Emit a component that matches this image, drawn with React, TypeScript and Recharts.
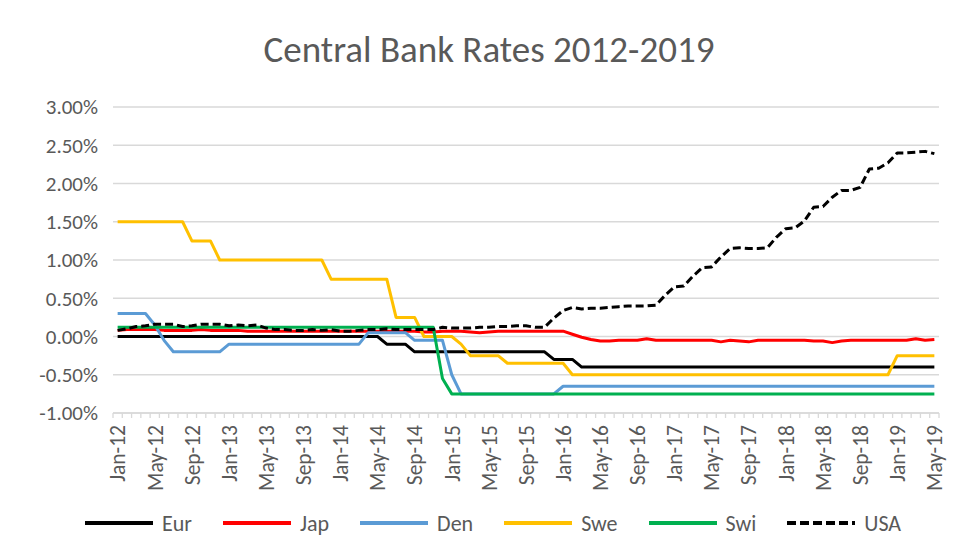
import { CartesianGrid, Line, LineChart, XAxis, YAxis } from 'recharts';

const FONT = 'Carlito, Calibri, Lato, sans-serif';
const TEXT = '#595959';
const GRID = '#D9D9D9';

// categories: monthly, Jan-12 .. May-19
const monthNames = ['Jan', 'Feb', 'Mar', 'Apr', 'May', 'Jun', 'Jul', 'Aug', 'Sep', 'Oct', 'Nov', 'Dec'];
const years = [12, 13, 14, 15, 16, 17, 18, 19];
const categories: string[] = [];
years.forEach(y => monthNames.forEach((m, i) => {
    if (y < 19 || i < 5) categories.push(`${m}-${y}`);
}));

// rates in %
const eur = [
    0, 0, 0, 0, 0, 0, 0, 0, 0, 0, 0, 0,
    0, 0, 0, 0, 0, 0, 0, 0, 0, 0, 0, 0,
    0, 0, 0, 0, 0, -0.1, -0.1, -0.1, -0.2, -0.2, -0.2, -0.2,
    -0.2, -0.2, -0.2, -0.2, -0.2, -0.2, -0.2, -0.2, -0.2, -0.2, -0.2, -0.3,
    -0.3, -0.3, -0.4, -0.4, -0.4, -0.4, -0.4, -0.4, -0.4, -0.4, -0.4, -0.4,
    -0.4, -0.4, -0.4, -0.4, -0.4, -0.4, -0.4, -0.4, -0.4, -0.4, -0.4, -0.4,
    -0.4, -0.4, -0.4, -0.4, -0.4, -0.4, -0.4, -0.4, -0.4, -0.4, -0.4, -0.4,
    -0.4, -0.4, -0.4, -0.4, -0.4,
];
const jap = [
    0.08, 0.09, 0.09, 0.09, 0.09, 0.08, 0.08, 0.08, 0.08, 0.09, 0.08, 0.08,
    0.08, 0.08, 0.07, 0.07, 0.07, 0.07, 0.07, 0.07, 0.07, 0.07, 0.07, 0.07,
    0.07, 0.07, 0.07, 0.07, 0.07, 0.07, 0.07, 0.07, 0.07, 0.06, 0.06, 0.07,
    0.07, 0.07, 0.06, 0.05, 0.06, 0.07, 0.07, 0.07, 0.07, 0.07, 0.07, 0.07,
    0.07, 0.03, -0.01, -0.04, -0.06, -0.06, -0.05, -0.05, -0.05, -0.03, -0.05, -0.05,
    -0.05, -0.05, -0.05, -0.05, -0.05, -0.07, -0.05, -0.06, -0.07, -0.05, -0.05, -0.05,
    -0.05, -0.05, -0.05, -0.06, -0.06, -0.08, -0.06, -0.05, -0.05, -0.05, -0.05, -0.05,
    -0.05, -0.05, -0.03, -0.05, -0.04,
];
const den = [
    0.3, 0.3, 0.3, 0.3, 0.15, -0.05, -0.2, -0.2, -0.2, -0.2, -0.2, -0.2,
    -0.1, -0.1, -0.1, -0.1, -0.1, -0.1, -0.1, -0.1, -0.1, -0.1, -0.1, -0.1,
    -0.1, -0.1, -0.1, 0.05, 0.05, 0.05, 0.05, 0.05, -0.05, -0.05, -0.05, -0.05,
    -0.5, -0.75, -0.75, -0.75, -0.75, -0.75, -0.75, -0.75, -0.75, -0.75, -0.75, -0.75,
    -0.65, -0.65, -0.65, -0.65, -0.65, -0.65, -0.65, -0.65, -0.65, -0.65, -0.65, -0.65,
    -0.65, -0.65, -0.65, -0.65, -0.65, -0.65, -0.65, -0.65, -0.65, -0.65, -0.65, -0.65,
    -0.65, -0.65, -0.65, -0.65, -0.65, -0.65, -0.65, -0.65, -0.65, -0.65, -0.65, -0.65,
    -0.65, -0.65, -0.65, -0.65, -0.65,
];
const swe = [
    1.5, 1.5, 1.5, 1.5, 1.5, 1.5, 1.5, 1.5, 1.25, 1.25, 1.25, 1.0,
    1.0, 1.0, 1.0, 1.0, 1.0, 1.0, 1.0, 1.0, 1.0, 1.0, 1.0, 0.75,
    0.75, 0.75, 0.75, 0.75, 0.75, 0.75, 0.25, 0.25, 0.25, 0, 0, 0,
    0, -0.1, -0.25, -0.25, -0.25, -0.25, -0.35, -0.35, -0.35, -0.35, -0.35, -0.35,
    -0.35, -0.5, -0.5, -0.5, -0.5, -0.5, -0.5, -0.5, -0.5, -0.5, -0.5, -0.5,
    -0.5, -0.5, -0.5, -0.5, -0.5, -0.5, -0.5, -0.5, -0.5, -0.5, -0.5, -0.5,
    -0.5, -0.5, -0.5, -0.5, -0.5, -0.5, -0.5, -0.5, -0.5, -0.5, -0.5, -0.5,
    -0.25, -0.25, -0.25, -0.25, -0.25,
];
const swi = [
    0.12, 0.12, 0.12, 0.12, 0.12, 0.12, 0.12, 0.12, 0.12, 0.12, 0.12, 0.12,
    0.12, 0.12, 0.12, 0.12, 0.12, 0.12, 0.12, 0.12, 0.12, 0.12, 0.12, 0.12,
    0.12, 0.12, 0.12, 0.12, 0.12, 0.12, 0.12, 0.12, 0.12, 0.12, 0.12, -0.55,
    -0.75, -0.75, -0.75, -0.75, -0.75, -0.75, -0.75, -0.75, -0.75, -0.75, -0.75, -0.75,
    -0.75, -0.75, -0.75, -0.75, -0.75, -0.75, -0.75, -0.75, -0.75, -0.75, -0.75, -0.75,
    -0.75, -0.75, -0.75, -0.75, -0.75, -0.75, -0.75, -0.75, -0.75, -0.75, -0.75, -0.75,
    -0.75, -0.75, -0.75, -0.75, -0.75, -0.75, -0.75, -0.75, -0.75, -0.75, -0.75, -0.75,
    -0.75, -0.75, -0.75, -0.75, -0.75,
];
const usa = [
    0.08, 0.1, 0.13, 0.14, 0.16, 0.16, 0.16, 0.13, 0.14, 0.16, 0.16, 0.16,
    0.14, 0.15, 0.14, 0.15, 0.11, 0.09, 0.09, 0.08, 0.08, 0.09, 0.08, 0.09,
    0.07, 0.07, 0.08, 0.09, 0.09, 0.1, 0.09, 0.09, 0.09, 0.09, 0.09, 0.12,
    0.11, 0.11, 0.11, 0.12, 0.12, 0.13, 0.13, 0.14, 0.14, 0.12, 0.12, 0.24,
    0.34, 0.38, 0.36, 0.37, 0.37, 0.38, 0.39, 0.4, 0.4, 0.4, 0.41, 0.54,
    0.65, 0.66, 0.79, 0.9, 0.91, 1.04, 1.15, 1.16, 1.15, 1.15, 1.16, 1.3,
    1.41, 1.42, 1.51, 1.69, 1.7, 1.82, 1.91, 1.91, 1.95, 2.19, 2.2, 2.27,
    2.4, 2.4, 2.41, 2.42, 2.39,
];

const yTicks = [-1, -0.5, 0, 0.5, 1, 1.5, 2, 2.5, 3];

const series = [
    { key: 'Eur', color: '#000000', values: eur, dash: undefined },
    { key: 'Jap', color: '#FF0000', values: jap, dash: undefined },
    { key: 'Den', color: '#5B9BD5', values: den, dash: undefined },
    { key: 'Swe', color: '#FFC000', values: swe, dash: undefined },
    { key: 'Swi', color: '#00B050', values: swi, dash: undefined },
    { key: 'USA', color: '#000000', values: usa, dash: '8 4' },
];

const data = categories.map((month, i) => {
    const row: Record<string, string | number> = { month };
    series.forEach(s => { row[s.key] = s.values[i]; });
    return row;
});

// month ticks: minor mark at every category boundary, label every 4th month
function MonthTick(props: any) {
    const { x, y, payload, index } = props;
    const idx = index ?? payload.index;
    const off = payload.offset ?? 4.6;
    return (
        <g>
            <line x1={x - off} x2={x - off} y1={y} y2={y + 5} stroke={GRID} strokeWidth={1.3} />
            {idx === categories.length - 1 && (
                <line x1={x + off} x2={x + off} y1={y} y2={y + 5} stroke={GRID} strokeWidth={1.3} />
            )}
            {idx % 4 === 0 && (
                <text
                    transform={`translate(${x},${y}) rotate(-90)`}
                    x={-12}
                    y={0}
                    dy="0.36em"
                    textAnchor="end"
                    fill={TEXT}
                    fontSize={21.5}
                    fontFamily={FONT}
                >
                    {payload.value}
                </text>
            )}
        </g>
    );
}

export default function App() {
    return (
        <div style={{ position: 'relative', width: 956, height: 556, overflow: 'hidden', background: '#fff', margin: -8 }}>
            <div
                style={{
                    position: 'absolute', left: 7, top: 7, width: 980, height: 580,
                    border: `1px solid ${GRID}`, boxSizing: 'border-box',
                }}
            />
            <div
                style={{
                    position: 'absolute', left: 22, width: 934, top: 29, lineHeight: '42px',
                    textAlign: 'center', fontFamily: FONT, fontSize: 37, color: TEXT,
                }}
            >
                Central Bank Rates 2012-2019
            </div>
            <div style={{ position: 'absolute', left: 0, top: 0 }}>
                <LineChart width={956} height={556} data={data} margin={{ top: 107, right: 17, bottom: 0, left: 0 }}>
                    <CartesianGrid vertical={false} stroke={GRID} strokeWidth={1.3} />
                    <XAxis
                        dataKey="month"
                        scale="band"
                        interval={0}
                        height={143}
                        tickSize={0}
                        tickMargin={0}
                        tickLine={false}
                        axisLine={{ stroke: GRID, strokeWidth: 1.3 }}
                        tick={<MonthTick />}
                    />
                    <YAxis
                        width={113}
                        domain={[-1, 3]}
                        ticks={yTicks}
                        axisLine={false}
                        tickLine={false}
                        tickMargin={9}
                        tickFormatter={(v: number) => `${v.toFixed(2)}%`}
                        tick={{ fill: TEXT, fontSize: 21, fontFamily: FONT }}
                    />
                    {series.map(s => (
                        <Line
                            key={s.key}
                            dataKey={s.key}
                            type="linear"
                            stroke={s.color}
                            strokeWidth={3}
                            strokeDasharray={s.dash}
                            strokeLinejoin="round"
                            dot={false}
                            activeDot={false}
                            isAnimationActive={false}
                        />
                    ))}
                </LineChart>
            </div>
            <div
                style={{
                    position: 'absolute', left: 85, top: 508, height: 30, display: 'flex', alignItems: 'center',
                    fontFamily: FONT, fontSize: 22, color: TEXT,
                }}
            >
                {series.map(s => (
                    <div key={s.key} style={{ display: 'flex', alignItems: 'center', marginRight: 31 }}>
                        <svg width={68} height={6} style={{ marginRight: 9 }}>
                            <line x1={0} x2={68} y1={3} y2={3} stroke={s.color} strokeWidth={4} strokeDasharray={s.dash ? '9 4' : undefined} />
                        </svg>
                        <span>{s.key}</span>
                    </div>
                ))}
            </div>
        </div>
    );
}
